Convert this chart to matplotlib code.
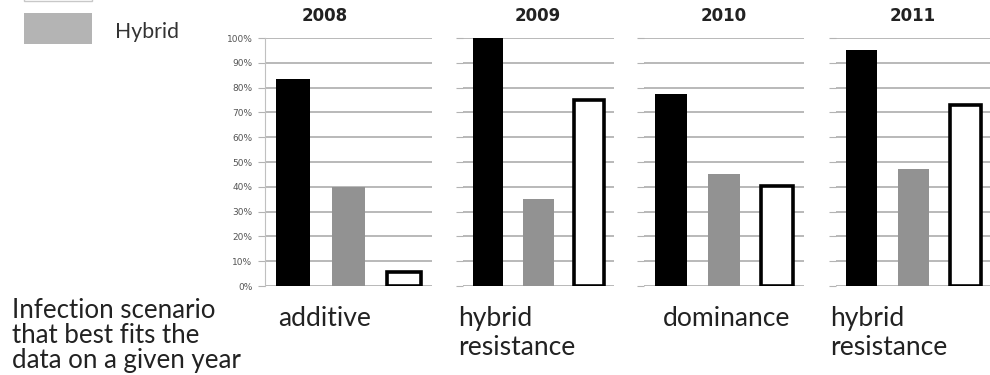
import matplotlib.pyplot as plt
from matplotlib.patches import Rectangle
from matplotlib.ticker import PercentFormatter

years = ['2008', '2009', '2010', '2011']
parent_a = [83.5, 100, 77.5, 95]   # black bars
hybrid = [40, 35, 45, 47]          # grey bars
parent_b = [5.5, 75, 40.5, 73]     # white bars
scenarios = [['additive'], ['hybrid', 'resistance'], ['dominance'], ['hybrid', 'resistance']]
caption = ['Infection scenario', 'that best fits the', 'data on a given year']
legend_labels = ['', 'Hybrid']
yticks = list(range(0, 101, 10))

W, H = 990, 375
fig = plt.figure(figsize=(W / 100, H / 100), dpi=100)
renderer = fig.canvas.get_renderer()


def fx(px):
    return px / W


def fy(py):
    return 1 - py / H


def fit_size(txt, family, target_px, weight='normal'):
    t = fig.text(0, 0, txt, fontsize=10, family=family, fontweight=weight)
    w = t.get_window_extent(renderer=renderer).width
    t.remove()
    return 10 * target_px / w


# panel placement in pixels: (left, width)
panels = [(265, 167), (463, 151), (644, 160), (836, 155)]
title_x = [325, 538, 724, 913]
bottom_px, top_px = 286, 38

for i, (yr, (lx, wx)) in enumerate(zip(years, panels)):
    ax = fig.add_axes([fx(lx), fy(bottom_px), wx / W, (bottom_px - top_px) / H])
    ax.set_axisbelow(True)
    ax.yaxis.grid(True, color='#b3b3b3', linewidth=1.3)
    ax.bar(0, parent_a[i], width=0.6, color='black', zorder=3)
    ax.bar(1, hybrid[i], width=0.6, color='#929292', zorder=3)
    ax.bar(2, parent_b[i], width=0.6, color='white', edgecolor='black', linewidth=2.6, zorder=3)
    ax.set_xlim(-0.5, 2.5)
    ax.set_ylim(0, 100)
    ax.set_yticks(yticks)
    ax.set_xticks([])
    for s in ['top', 'right', 'bottom']:
        ax.spines[s].set_visible(False)
    ax.spines['left'].set_color('#c0c0c0')
    ax.spines['left'].set_visible(i == 0)
    ax.tick_params(axis='y', length=5, color='#b3b3b3', labelsize=6.5, labelcolor='#555555', pad=4)
    if i == 0:
        ax.yaxis.set_major_formatter(PercentFormatter(decimals=0))
    else:
        ax.set_yticklabels([])
    fig.text(fx(title_x[i]), fy(16), yr, ha='center', va='center', fontsize=12,
             fontweight='bold', color='#222222', family='DejaVu Sans')

# scenario labels under each panel
scen_size = fit_size('dominance', 'Lato', 128)
scen_x = [278, 458, 663, 830]
for lines, x in zip(scenarios, scen_x):
    for j, line in enumerate(lines):
        fig.text(fx(x), fy(326 + 29 * j), line, ha='left', va='baseline',
                 fontsize=scen_size, family='Lato', color='#222222')

cap_size = fit_size(caption[2], 'Lato', 228)
for j, line in enumerate(caption):
    fig.text(fx(12), fy(318 + 25 * j), line, ha='left', va='baseline',
             fontsize=cap_size, family='Lato', color='#222222')

# legend (top entry cut off by the image edge)
legend_colors = ['white', '#b4b4b4']
fig.patches.append(Rectangle((fx(24), fy(1)), 68 / W, 0.1, transform=fig.transFigure,
                             facecolor=legend_colors[0], edgecolor='#c8c8c8', linewidth=1))
fig.patches.append(Rectangle((fx(24), fy(44)), 68 / W, 31 / H, transform=fig.transFigure,
                             facecolor=legend_colors[1], edgecolor='none'))
fig.text(fx(115), fy(32), legend_labels[1], ha='left', va='center',
         fontsize=fit_size('Hybrid', 'Lato', 64), family='Lato', color='#333333')

fig.savefig('out.png', dpi=100)
